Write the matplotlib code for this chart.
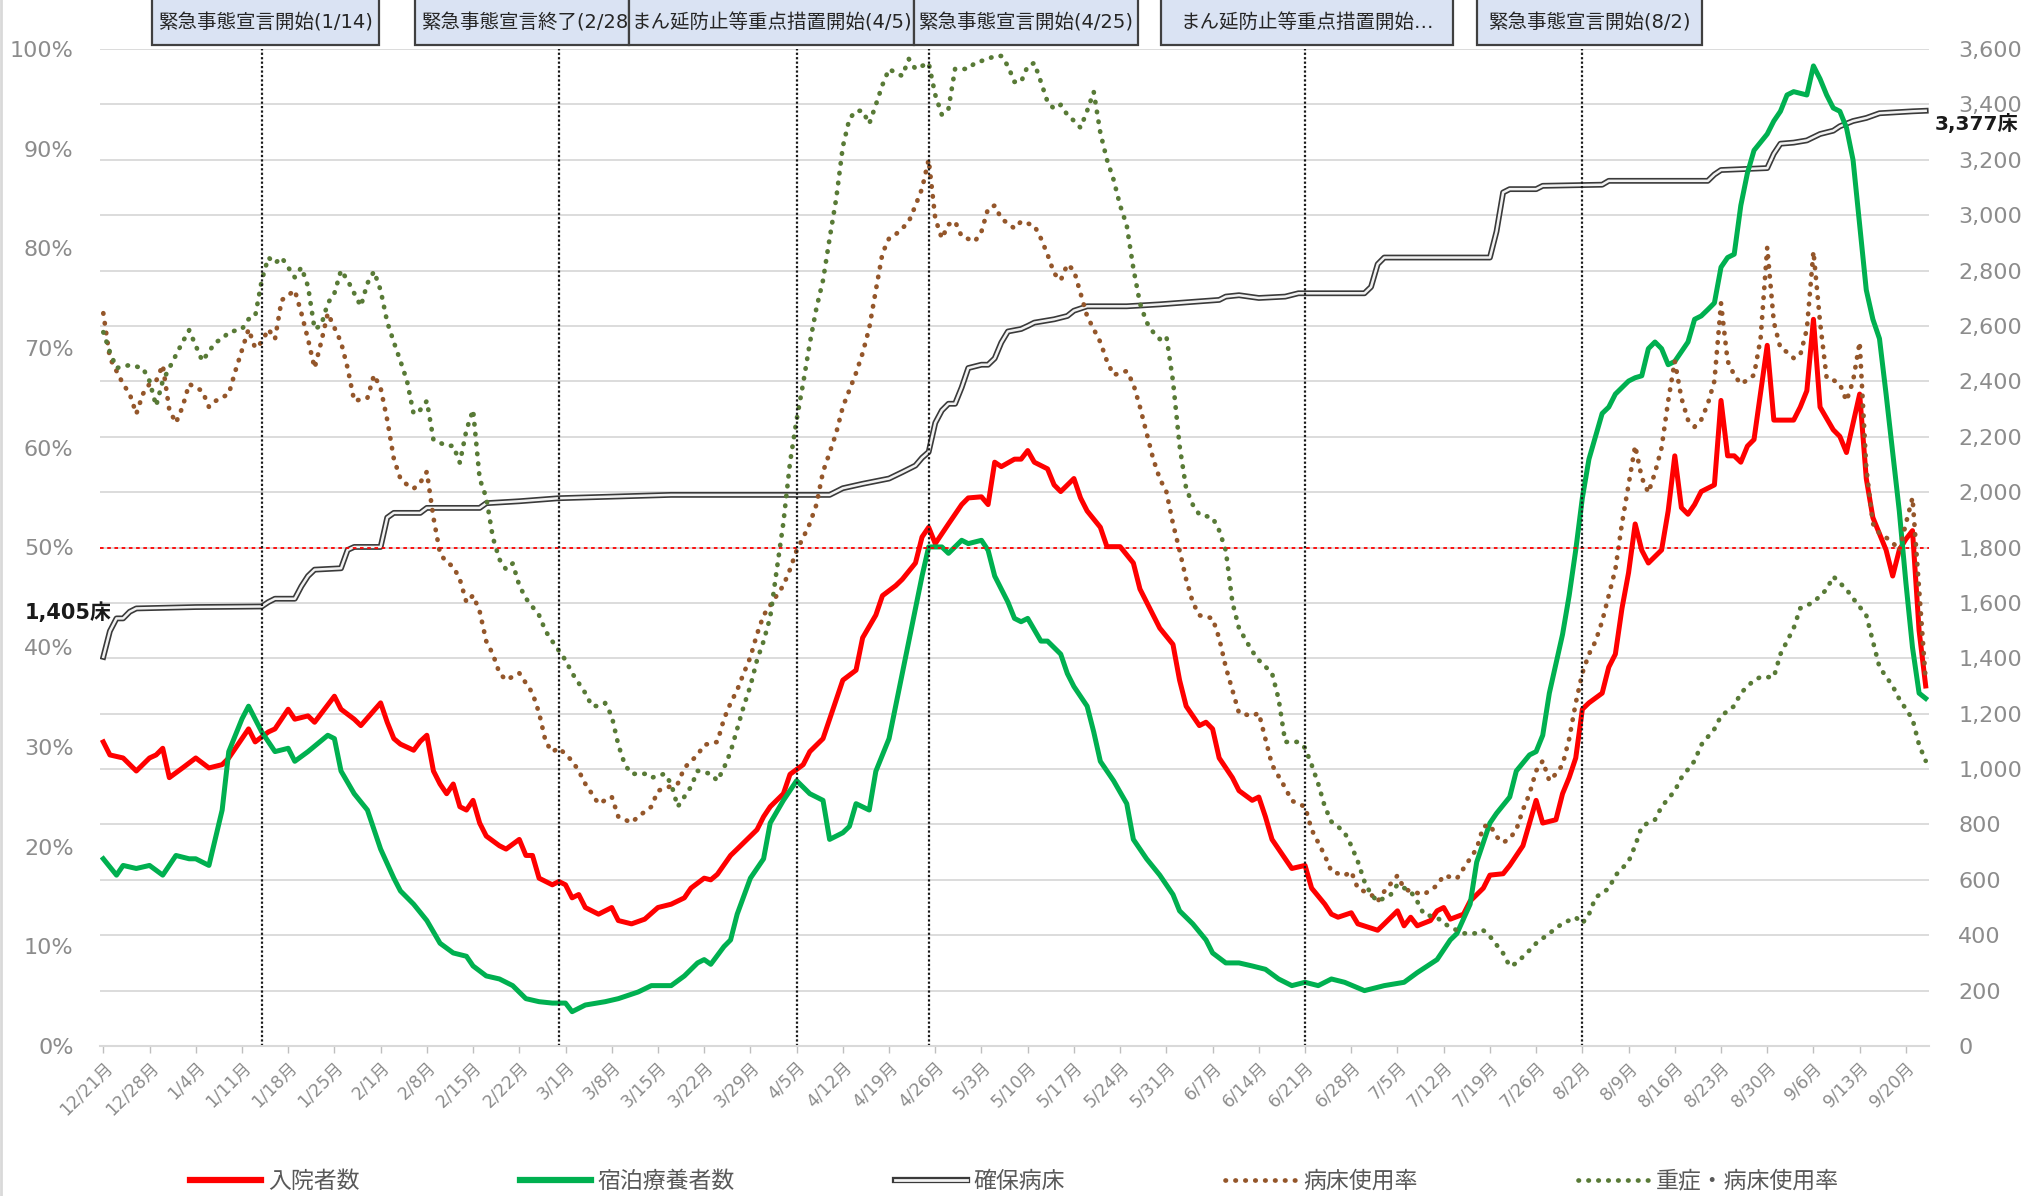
import matplotlib.pyplot as plt
from matplotlib.lines import Line2D
from matplotlib.patches import Rectangle

plt.rcParams['font.family'] = ['DejaVu Sans', 'Noto Sans CJK JP']

# x axis: day 0 = 12/21 (Mon), last day 276 = 9/23
week_labels = ['12/21月', '12/28月', '1/4月', '1/11月', '1/18月', '1/25月', '2/1月', '2/8月',
               '2/15月', '2/22月', '3/1月', '3/8月', '3/15月', '3/22月', '3/29月', '4/5月',
               '4/12月', '4/19月', '4/26月', '5/3月', '5/10月', '5/17月', '5/24月', '5/31月',
               '6/7月', '6/14月', '6/21月', '6/28月', '7/5月', '7/12月', '7/19月', '7/26月',
               '8/2月', '8/9月', '8/16月', '8/23月', '8/30月', '9/6月', '9/13月', '9/20月']

# 入院者数 (right axis)
hosp_day = [0, 1, 3, 5, 7, 8, 9, 10, 12, 14, 16, 18, 19, 21, 22, 23, 25, 26, 28, 29, 31, 32, 35, 36,
            38, 39, 42, 43, 44, 45, 47, 48, 49, 50, 51, 52, 53, 54, 55, 56, 57, 58, 60, 61, 63, 64,
            65, 66, 68, 69, 70, 71, 72, 73, 75, 77, 78, 80, 82, 84, 86, 88, 89, 91, 92, 93, 95, 96,
            98, 99, 100, 101, 103, 104, 106, 107, 109, 111, 112, 114, 115, 117, 118, 120, 121, 123,
            124, 125, 126, 128, 130, 131, 133, 134, 135, 136, 138, 139, 140, 141, 142, 143, 144, 145,
            147, 148, 149, 151, 152, 154, 156, 157, 159, 160, 162, 163, 164, 166, 167, 168, 169, 171,
            172, 174, 175, 176, 177, 179, 180, 182, 183, 185, 186, 187, 189, 190, 193, 194, 196, 197,
            198, 199, 201, 202, 203, 204, 206, 207, 209, 210, 212, 213, 215, 216, 217, 218, 220, 221,
            222, 223, 224, 225, 227, 228, 229, 230, 231, 232, 233, 234, 236, 237, 238, 239, 240, 241,
            242, 244, 245, 246, 247, 248, 249, 250, 252, 253, 255, 256, 257, 258, 259, 260, 262, 263,
            264, 266, 267, 268, 270, 271, 272, 273, 274, 275, 276]
hosp_val = [1098, 1051, 1040, 993, 1040, 1051, 1075, 969, 1004, 1040, 1004, 1016, 1040, 1110, 1145,
            1098, 1134, 1145, 1216, 1180, 1192, 1169, 1263, 1216, 1180, 1157, 1239, 1169, 1110, 1090,
            1068, 1100, 1122, 993, 946, 911, 946, 864, 852, 887, 805, 758, 723, 711, 746, 688, 688,
            606, 582, 594, 582, 535, 547, 500, 476, 500, 453, 441, 458, 500, 512, 535, 570, 606, 600,
            620, 688, 711, 758, 781, 828, 864, 911, 981, 1016, 1063, 1110, 1251, 1321, 1357, 1474,
            1556, 1626, 1662, 1685, 1744, 1838, 1873, 1814, 1885, 1955, 1979, 1983, 1955, 2108, 2092,
            2119, 2119, 2150, 2108, 2096, 2084, 2026, 2002, 2049, 1979, 1932, 1873, 1803, 1803, 1744,
            1650, 1556, 1509, 1450, 1321, 1227, 1157, 1169, 1145, 1040, 969, 922, 887, 899, 828, 746,
            676, 641, 652, 570, 512, 476, 465, 481, 441, 418, 441, 488, 434, 465, 434, 453, 488, 500,
            458, 476, 523, 570, 617, 622, 652, 723, 805, 887, 805, 817, 911, 969, 1040, 1216, 1239,
            1274, 1368, 1415, 1580, 1709, 1885, 1790, 1744, 1791, 1932, 2131, 1944, 1920, 1955, 2002,
            2026, 2331, 2131, 2131, 2108, 2166, 2190, 2530, 2260, 2260, 2260, 2307, 2366, 2624, 2307,
            2225, 2201, 2143, 2354, 2049, 1908, 1791, 1697, 1791, 1830, 1861, 1500, 1300]

# 宿泊療養者数 (right axis)
hotel_day = [0, 2, 3, 5, 7, 9, 11, 13, 14, 16, 18, 19, 21, 22, 24, 26, 28, 29, 31, 34, 35, 36, 38, 40,
             42, 44, 45, 47, 49, 51, 53, 55, 56, 58, 60, 62, 64, 66, 68, 70, 71, 73, 76, 78, 81, 83,
             86, 88, 90, 91, 92, 94, 95, 96, 98, 100, 101, 103, 105, 107, 109, 110, 112, 113, 114,
             116, 117, 119, 120, 121, 122, 123, 124, 125, 127, 128, 130, 131, 133, 134, 135, 137, 138,
             139, 140, 142, 143, 145, 146, 147, 149, 150, 151, 153, 155, 156, 158, 160, 162, 163, 165,
             167, 168, 170, 172, 174, 176, 178, 180, 182, 184, 186, 188, 191, 194, 197, 199, 202, 204,
             205, 207, 208, 210, 211, 213, 214, 216, 217, 218, 219, 221, 222, 223, 224, 225, 227, 228,
             229, 231, 232, 233, 234, 235, 236, 237, 238, 240, 241, 242, 243, 244, 245, 246, 247, 248,
             249, 250, 252, 253, 254, 255, 256, 258, 259, 260, 261, 262, 263, 264, 265, 266, 267, 268,
             269, 270, 271, 272, 273, 274, 275, 276]
hotel_val = [676, 617, 652, 641, 652, 617, 688, 676, 676, 652, 852, 1063, 1181, 1227, 1134, 1063, 1075,
             1028, 1063, 1122, 1110, 993, 911, 852, 711, 606, 560, 512, 453, 371, 336, 324, 289, 253,
             242, 218, 171, 160, 155, 155, 124, 148, 160, 171, 195, 218, 218, 253, 300, 312, 295, 359,
             383, 476, 606, 676, 805, 887, 958, 911, 887, 746, 770, 793, 875, 852, 992, 1110, 1227,
             1345, 1462, 1580, 1697, 1802, 1802, 1779, 1826, 1814, 1826, 1790, 1697, 1603, 1544, 1532,
             1544, 1462, 1462, 1415, 1345, 1298, 1227, 1134, 1028, 958, 875, 746, 676, 617, 547, 488,
             441, 383, 336, 300, 300, 289, 277, 242, 218, 230, 218, 242, 230, 200, 218, 230, 265, 312,
             383, 406, 512, 664, 805, 840, 899, 993, 1051, 1063, 1122, 1274, 1486, 1626, 1791, 1979,
             2119, 2284, 2307, 2354, 2401, 2413, 2420, 2518, 2542, 2518, 2460, 2472, 2542, 2624, 2636,
             2659, 2683, 2812, 2847, 2859, 3035, 3152, 3234, 3293, 3340, 3375, 3434, 3446, 3434, 3539,
             3492, 3434, 3387, 3375, 3316, 3199, 2964, 2730, 2624, 2554, 2354, 2143, 1932, 1673, 1439,
             1274, 1255]

# 確保病床 (right axis)
beds_day = [0, 1, 2, 3, 4, 5, 14, 24, 25, 26, 29, 30, 31, 32, 36, 37, 38, 42, 43, 44, 48, 49, 57, 58,
            63, 69, 86, 110, 112, 115, 119, 121, 123, 124, 125, 126, 127, 128, 129, 130, 131, 133, 134,
            135, 136, 137, 139, 140, 141, 144, 146, 147, 149, 155, 160, 165, 169, 170, 172, 175, 179,
            181, 191, 192, 193, 194, 210, 211, 212, 213, 217, 218, 227, 228, 243, 244, 245, 252, 253,
            254, 256, 258, 260, 262, 263, 265, 267, 269, 274, 276]
beds_val = [1405, 1498, 1544, 1544, 1568, 1580, 1585, 1587, 1603, 1615, 1615, 1660, 1697, 1720, 1725,
            1791, 1802, 1802, 1908, 1925, 1925, 1943, 1943, 1960, 1967, 1978, 1990, 1990, 2014, 2030,
            2049, 2072, 2096, 2124, 2145, 2250, 2295, 2319, 2319, 2378, 2448, 2460, 2460, 2483, 2540,
            2580, 2589, 2600, 2612, 2624, 2636, 2655, 2671, 2671, 2678, 2687, 2694, 2706, 2711, 2701,
            2706, 2718, 2718, 2741, 2823, 2847, 2847, 2941, 3082, 3094, 3094, 3106, 3110, 3124, 3124,
            3147, 3163, 3170, 3222, 3258, 3262, 3270, 3293, 3305, 3321, 3340, 3351, 3368, 3375, 3377]

# 病床使用率 (left axis, %)
use_day = [0, 1, 3, 4, 5, 6, 7, 8, 9, 10, 11, 12, 13, 15, 16, 17, 19, 20, 22, 23, 24, 25, 26, 27, 29,
           30, 31, 32, 33, 34, 36, 37, 38, 40, 41, 42, 43, 44, 45, 46, 47, 48, 49, 50, 51, 52, 53, 54,
           55, 56, 57, 58, 59, 60, 61, 63, 64, 65, 66, 67, 68, 69, 71, 72, 73, 74, 75, 77, 78, 80, 81,
           83, 84, 87, 88, 90, 91, 93, 94, 95, 96, 97, 98, 99, 100, 102, 103, 104, 105, 106, 107, 108,
           109, 110, 111, 112, 113, 114, 115, 116, 117, 118, 119, 120, 121, 122, 123, 124, 125, 126,
           127, 128, 129, 130, 132, 133, 134, 135, 136, 138, 139, 141, 142, 143, 144, 145, 146, 147,
           148, 149, 150, 151, 152, 153, 155, 156, 157, 158, 159, 160, 161, 162, 163, 164, 165, 166,
           168, 169, 170, 171, 172, 174, 175, 176, 177, 179, 180, 182, 183, 185, 186, 188, 189, 190,
           192, 193, 194, 196, 197, 198, 200, 202, 203, 205, 206, 207, 208, 209, 210, 211, 212, 213,
           214, 215, 216, 217, 218, 219, 220, 221, 222, 223, 224, 225, 226, 227, 228, 229, 230, 231,
           232, 233, 234, 235, 236, 237, 238, 239, 240, 241, 242, 243, 244, 245, 246, 247, 248, 249,
           250, 251, 252, 253, 254, 255, 256, 257, 258, 259, 260, 261, 262, 263, 264, 265, 266, 267,
           268, 269, 270, 271, 272, 273, 274, 275, 276]
use_val = [73.5, 69, 66.4, 65.4, 63.4, 65.4, 66.4, 66.7, 68.3, 63.8, 62.5, 64.1, 66.4, 65.7, 64.1, 64.7,
           65.4, 67.7, 71.9, 70, 70.6, 71.9, 70.9, 74.8, 75.8, 73.5, 70.9, 68, 70.6, 73.5, 70.6, 68,
           64.7, 65, 67.3, 66, 62.8, 58.9, 56.9, 56.3, 55.9, 56.5, 57.6, 53, 49.4, 48.5, 48.1, 46.8,
           44.5, 45.2, 43.6, 40.6, 39.3, 37.4, 36.7, 37.4, 36.4, 35.4, 33.4, 30.5, 29.5, 29.9, 28.6,
           27.6, 26.3, 25.3, 24.3, 25, 23, 22.4, 23, 24, 25.6, 26.3, 27.9, 29.2, 30.2, 30.5, 32.8,
           34.4, 35.7, 37.4, 39, 41.3, 43.2, 45.2, 46.2, 47.8, 49.7, 51, 52.4, 54.3, 57.6, 59.5, 61.5,
           64.1, 65.8, 67.5, 69.5, 72, 75.8, 79.5, 81, 81.4, 82, 82.7, 84.3, 86, 88.9, 83, 81, 82.4,
           82.7, 81.2, 80.7, 81.7, 84, 84.3, 83, 82, 82.7, 82.3, 81, 79.4, 77.5, 76.8, 78.4, 77.8,
           75.5, 73.2, 71.9, 70.6, 68.7, 67.3, 67.7, 66.4, 64.1, 61.5, 58.9, 56.9, 55.6, 52.4, 49.7,
           46.8, 44.5, 43.2, 42.9, 40.9, 38, 35.7, 33.4, 33.1, 33.4, 30.8, 28.2, 25.9, 24.6, 24, 21.7,
           19.1, 17.5, 17.1, 17.5, 15.8, 15.2, 14.5, 15.5, 17.1, 15.8, 15.5, 15.2, 16.1, 17.1, 16.8,
           17.8, 18.8, 19.8, 22, 22.2, 21, 20.4, 20.8, 21.7, 23.7, 25.3, 27.6, 28.6, 26.6, 27.3, 28.2,
           30.8, 34.4, 37.4, 39.3, 40.6, 42.6, 45.2, 47.8, 52.4, 56.3, 60.2, 57, 55.5, 57.5, 60, 64.7,
           68.7, 65, 62.8, 62.1, 62.8, 64.4, 66.7, 74.5, 68.7, 67.3, 66.4, 66.8, 67.3, 71, 80.1, 72.6,
           70, 69.6, 69, 69.3, 71.9, 79.7, 72.6, 67, 66.8, 66.4, 64.7, 66.7, 70.6, 58, 52.4, 51.4, 51,
           50.5, 49.7, 52.4, 55, 45.8, 36.7]

# 重症・病床使用率 (left axis, %)
severe_day = [0, 1, 2, 4, 6, 7, 8, 9, 11, 12, 13, 15, 17, 18, 19, 21, 22, 23, 24, 25, 26, 27, 29, 30,
              31, 32, 33, 34, 35, 36, 37, 39, 40, 41, 42, 43, 44, 45, 46, 47, 48, 49, 50, 52, 53, 54,
              55, 56, 57, 58, 59, 60, 61, 62, 63, 64, 66, 67, 68, 70, 71, 72, 73, 74, 75, 76, 77, 78,
              79, 80, 82, 83, 85, 86, 87, 88, 89, 90, 92, 93, 94, 95, 96, 97, 98, 99, 100, 101, 102,
              103, 104, 105, 106, 107, 108, 109, 110, 111, 112, 113, 114, 115, 116, 117, 118, 119, 120,
              121, 122, 123, 124, 125, 126, 127, 128, 129, 131, 132, 134, 135, 136, 137, 138, 139, 140,
              141, 142, 143, 144, 145, 146, 147, 148, 149, 150, 151, 152, 153, 154, 155, 156, 157, 158,
              159, 160, 161, 162, 163, 164, 165, 166, 168, 169, 170, 171, 172, 174, 175, 177, 178, 179,
              181, 182, 183, 184, 185, 186, 187, 188, 189, 190, 191, 192, 193, 195, 196, 198, 199, 200,
              202, 203, 205, 206, 208, 209, 210, 212, 213, 214, 216, 217, 219, 221, 223, 224, 225, 226,
              228, 229, 231, 232, 233, 234, 235, 236, 238, 239, 241, 242, 244, 245, 247, 248, 250, 251,
              253, 254, 256, 257, 259, 261, 262, 264, 265, 267, 268, 269, 271, 272, 274, 275, 276]
severe_val = [71.6, 69.6, 68, 68.3, 68, 66.7, 64.2, 66.7, 69.3, 70.6, 71.8, 68.7, 70.6, 70.9, 71.6, 71.9,
              72.9, 73.2, 76.8, 79.1, 78.5, 79.1, 77.1, 78.1, 76.2, 71.9, 72.3, 74.5, 75.5, 77.8, 76.8,
              74.2, 76.5, 77.7, 75.8, 72.6, 70.6, 68.7, 66.7, 63.4, 63.8, 64.7, 60.8, 60.2, 60.2, 58.5,
              61.8, 63.8, 56.9, 55, 51, 48.8, 47.8, 48.4, 46.2, 44.9, 43.2, 41.6, 40.6, 38.7, 37.4, 36.4,
              35.4, 34.1, 34.1, 34.4, 33.1, 30.2, 28.2, 27.3, 27.3, 26.9, 27.3, 26.3, 24, 25, 26, 27.6,
              27.3, 26.6, 27.9, 29.5, 31.8, 34.1, 36.1, 38.7, 40.6, 43, 47.8, 52.5, 58.5, 62.8, 66.5,
              70.5, 74, 76.8, 81, 85, 90.2, 93, 93.8, 93.8, 92.5, 94.4, 96.4, 98, 97.6, 97.3, 99, 98,
              98.3, 98.6, 95.4, 93.4, 94, 98, 98, 98.6, 99, 99.3, 99.3, 98.3, 96.7, 96.7, 98.3, 98.6,
              96.7, 94.7, 94, 94.4, 93.4, 92.8, 92.1, 93.8, 95.7, 91.6, 88.9, 86.9, 84.3, 82.3, 78, 74.5,
              72.6, 71.6, 70.9, 71.2, 66.7, 60.2, 55.9, 54.3, 53.3, 53, 51.7, 49.7, 44.5, 41.9, 39.6,
              38.7, 37.4, 34.8, 30.5, 30.5, 29.9, 28.2, 26.3, 24, 22.5, 22, 21.4, 20.1, 18.5, 16.5, 15.2,
              14.5, 15.2, 16.2, 15.5, 14.5, 13.2, 12.9, 12.3, 11.6, 11.3, 11.3, 11.6, 11, 9.3, 8, 8.3,
              9.6, 10.3, 11.3, 12.3, 12.9, 12.3, 13.2, 14.9, 15.8, 17.1, 18.5, 20.1, 22, 22.4, 22.7, 24,
              25.6, 26.9, 28.6, 30.2, 31.8, 33.1, 34.1, 35.4, 36.7, 37, 37, 39.3, 41.9, 43.9, 44.5, 45.8,
              47.1, 45.8, 44.9, 43.2, 40.6, 38, 36.1, 34.8, 32.8, 30.2, 28.6]

event_day = [24, 69, 105, 125, 182, 224]
event_text = ['緊急事態宣言開始(1/14)', '緊急事態宣言終了(2/28)', 'まん延防止等重点措置開始(4/5)',
              '緊急事態宣言開始(4/25)', 'まん延防止等重点措置開始…', '緊急事態宣言開始(8/2)']

legend_names = ['入院者数', '宿泊療養者数', '確保病床', '病床使用率', '重症・病床使用率']

W, H = 2029, 1196
RED, GREEN, BROWN, OLIVE = '#ff0000', '#00b050', '#94562a', '#587a36'
DOT = (0, (0.1, 2.0))

fig = plt.figure(figsize=(W / 100, H / 100), dpi=100)
ax = fig.add_axes([100 / W, 1 - 1046 / H, 1829 / W, 997 / H])
ax2 = ax.twinx()
# percent lines sit above the count lines
ax.set_zorder(ax2.get_zorder() + 1)
ax.patch.set_visible(False)

ax.set_xlim(-0.5, 276.5)
ax.set_ylim(0, 100)
ax2.set_ylim(0, 3600)

ax2.set_yticks(range(0, 3601, 200))
ax2.set_yticklabels([f'{v:,}' for v in range(0, 3601, 200)])
ax2.grid(axis='y', color='#d9d9d9', lw=1.3)
ax2.set_axisbelow(True)
ax2.tick_params(axis='y', length=0, pad=21, labelsize=16, labelcolor='#8c8c8c')

ax.set_yticks(range(0, 101, 10))
ax.set_yticklabels([f'{v}%' for v in range(0, 101, 10)])
ax.tick_params(axis='y', length=0, pad=19, labelsize=16, labelcolor='#8c8c8c')

ax.set_xticks(range(0, 277, 7))
ax.set_xticklabels(week_labels)
ax.tick_params(axis='x', length=5, width=1, color='#bfbfbf', labelsize=12.5, labelcolor='#8c8c8c',
               rotation=45, pad=4)
for lbl in ax.get_xticklabels():
    lbl.set_ha('right')
    lbl.set_rotation_mode('anchor')

for a in (ax, ax2):
    for s in a.spines.values():
        s.set_visible(False)
ax.spines['bottom'].set_visible(True)
ax.spines['bottom'].set_color('#d9d9d9')
ax.spines['bottom'].set_linewidth(1.5)

# count series
ax2.plot(beds_day, beds_val, color='#3a3a3a', lw=4.2, solid_joinstyle='round')
ax2.plot(beds_day, beds_val, color='#f2f2f2', lw=1.8, solid_joinstyle='round')
ax2.plot(hosp_day, hosp_val, color=RED, lw=3.6, solid_joinstyle='round')
ax2.plot(hotel_day, hotel_val, color=GREEN, lw=3.6, solid_joinstyle='round')

# rate series
ax.plot(use_day, use_val, color=BROWN, lw=3.4, ls=DOT, dash_capstyle='round')
ax.plot(severe_day, severe_val, color=OLIVE, lw=3.4, ls=DOT, dash_capstyle='round')
ax.axhline(50, color=RED, lw=1.3, ls=(0, (2, 2)))
for d in event_day:
    ax.axvline(d, color='#1a1a1a', lw=1.6, ls=(0, (1, 1)))

ax2.annotate(f'{beds_val[0]:,}床', xy=(beds_day[0], beds_val[0]), xytext=(8, 44),
             textcoords='offset pixels', ha='right', va='center', fontsize=15,
             fontweight='bold', color='#1a1a1a', annotation_clip=False)
ax2.annotate(f'{beds_val[-1]:,}床', xy=(beds_day[-1], beds_val[-1]), xytext=(9, -13),
             textcoords='offset pixels', ha='left', va='center', fontsize=14.5,
             fontweight='bold', color='#1a1a1a', annotation_clip=False)

# event boxes along the top edge (pixel extents)
box_px = [(152, 379), (415, 629), (629, 914), (914, 1138), (1161, 1453), (1477, 1702)]
box_bottom = 45
for i, ((x0, x1), txt) in enumerate(zip(box_px, event_text)):
    z = 3 + 2 * i
    fig.patches.append(Rectangle((x0 / W, 1 - box_bottom / H), (x1 - x0) / W, (box_bottom + 10) / H,
                                 transform=fig.transFigure, facecolor='#dae3f3',
                                 edgecolor='#404040', lw=1.6, zorder=z))
    if i == 1:
        fig.text((x0 + 6) / W, 1 - box_bottom / 2 / H, txt, ha='left', va='center',
                 fontsize=14, color='#262626', zorder=z + 1)
    else:
        fig.text((x0 + x1) / 2 / W, 1 - box_bottom / 2 / H, txt, ha='center', va='center',
                 fontsize=14, color='#262626', zorder=z + 1)

fig.add_artist(Line2D([1 / W, 1 / W], [0, 1], transform=fig.transFigure, color='#d9d9d9', lw=2))

handles = [Line2D([], [], color=RED, lw=4.5),
           Line2D([], [], color=GREEN, lw=4.5),
           (Line2D([], [], color='#3a3a3a', lw=4.5), Line2D([], [], color='#f2f2f2', lw=2)),
           Line2D([], [], color=BROWN, lw=3.4, ls=DOT, dash_capstyle='round'),
           Line2D([], [], color=OLIVE, lw=3.4, ls=DOT, dash_capstyle='round')]
fig.legend(handles, legend_names, loc='center', bbox_to_anchor=(0.5, 0.0125), ncol=5,
           frameon=False, fontsize=16.5, handlelength=3.1, handletextpad=0.3,
           columnspacing=7, labelcolor='#595959')

fig.savefig('out.png', dpi=100)
